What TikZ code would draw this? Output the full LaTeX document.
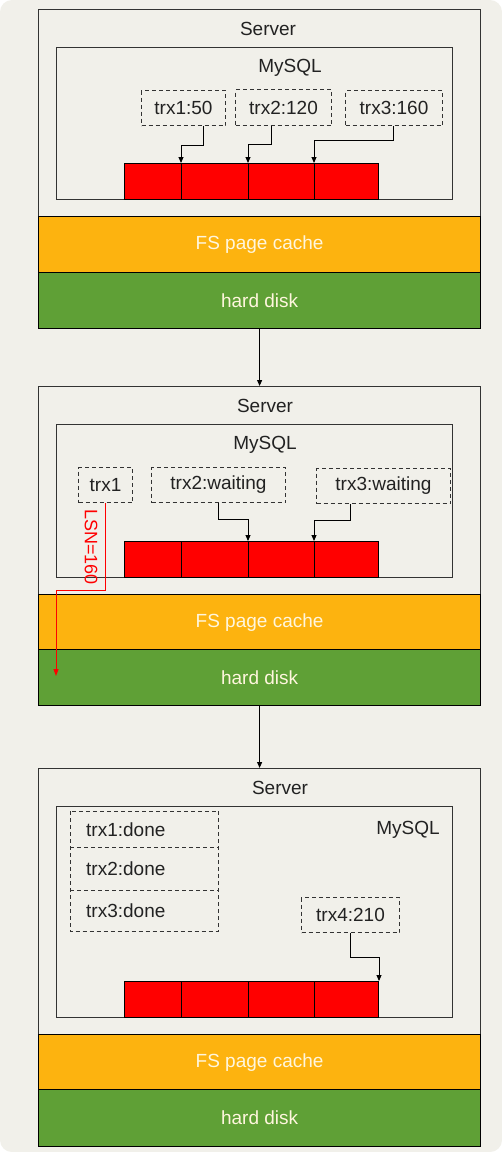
\documentclass[tikz,border=0pt]{standalone}
\usepackage{fontspec}
\setmainfont{Liberation Sans}
\usetikzlibrary{arrows.meta}
\definecolor{bg}{HTML}{F1F0EA}
\definecolor{cachec}{HTML}{FDB30F}
\definecolor{diskc}{HTML}{5FA036}
\definecolor{bufc}{HTML}{FF0000}
\definecolor{lnc}{HTML}{333333}
\definecolor{lblc}{HTML}{FFF6DE}
\definecolor{txtc}{HTML}{222222}
\begin{document}
\begin{tikzpicture}[x=1pt,y=-1pt,
  every node/.style={font=\fontsize{19}{21}\selectfont, text=txtc},
  solidbox/.style={draw=lnc, line width=1.2pt, fill=bg, inner sep=0pt, anchor=north west},
  cachebox/.style={draw=black, line width=1.2pt, fill=cachec, inner sep=0pt, anchor=north west, minimum width=442pt, text=lblc},
  diskbox/.style={draw=black, line width=1.2pt, fill=diskc, inner sep=0pt, anchor=north west, minimum width=442pt, text=lblc},
  dashline/.style={draw=lnc, line width=1pt, dash pattern=on 4pt off 3pt},
  trxbox/.style={dashline, inner sep=0pt, anchor=north west},
  donebox/.style={inner sep=0pt, anchor=north west, text width=116pt, inner xsep=16pt, align=left},
  cellbox/.style={draw=black, line width=1pt, fill=bufc, inner sep=0pt, anchor=north west, minimum height=36pt},
  arr/.style={draw=black, line width=0.9pt, -{Triangle[length=6pt,width=5pt]}},
  redarr/.style={draw=bufc, line width=1pt, -{Triangle[length=7pt,width=5pt]}},
  lbl/.style={inner sep=0pt}
]
\useasboundingbox (0,0) rectangle (502,1152);
\fill[white] (0,0) rectangle (502,1152);
\fill[bg, rounded corners=12pt] (0,0) rectangle (502,1152);

% ---------- panel 1 ----------
\node[solidbox, minimum width=442pt, minimum height=207pt] (srv1) at (38,9) {};
\node[cachebox, minimum height=56pt] (cache1) at (38,216) {FS page cache};
\node[diskbox, minimum height=56pt] (disk1) at (38,272) {hard disk};
\node[lbl] (srvl1) at (268,29) {Server};
\node[solidbox, minimum width=396pt, minimum height=152pt] (my1) at (56,47) {};
\node[lbl] (myl1) at (290,68) {MySQL};
\node[trxbox, minimum width=84pt, minimum height=35pt] (t11) at (141,90) {trx1:50};
\node[trxbox, minimum width=96pt, minimum height=36pt] (t12) at (235,89) {trx2:120};
\node[trxbox, minimum width=97pt, minimum height=35pt] (t13) at (345,90) {trx3:160};
\node[cellbox, minimum width=57pt] (c11) at (124,163) {};
\node[cellbox, minimum width=67pt] (c12) at (181,163) {};
\node[cellbox, minimum width=66pt] (c13) at (248,163) {};
\node[cellbox, minimum width=64pt] (c14) at (314,163) {};
\draw[arr] ([xshift=20pt]t11.south) -- ++(0,19) -| (c12.north west);
\draw[arr] ([xshift=-12pt]t12.south) -- ++(0,18) -| (c13.north west);
\draw[arr] ([xshift=-0.5pt]t13.south) -- ++(0,14) -| (c14.north west);

% ---------- panel 2 ----------
\node[solidbox, minimum width=442pt, minimum height=208pt] (srv2) at (38,386) {};
\node[cachebox, minimum height=55pt] (cache2) at (38,594) {FS page cache};
\node[diskbox, minimum height=56pt] (disk2) at (38,649) {hard disk};
\node[lbl] (srvl2) at (265,406) {Server};
\node[solidbox, minimum width=396pt, minimum height=153pt] (my2) at (56,424) {};
\node[lbl] (myl2) at (265,445) {MySQL};
\node[trxbox, minimum width=54pt, minimum height=35pt] (t21) at (78,467) {trx1};
\node[trxbox, minimum width=134pt, minimum height=35pt] (t22) at (151,467) {trx2:waiting};
\node[trxbox, minimum width=134pt, minimum height=35pt] (t23) at (316,468) {trx3:waiting};
\node[cellbox, minimum width=57pt] (c21) at (124,541) {};
\node[cellbox, minimum width=67pt] (c22) at (181,541) {};
\node[cellbox, minimum width=66pt] (c23) at (248,541) {};
\node[cellbox, minimum width=64pt] (c24) at (314,541) {};
\draw[arr] (t22.south) -- ++(0,16) -| (c23.north west);
\draw[arr] ([xshift=-33pt]t23.south) -- ++(0,16) -| (c24.north west);
\coordinate (r2end) at (56,676);
\draw[redarr] (t21.south) -- ++(0,87) -| (r2end);
\node[lbl, text=bufc, rotate=-90, font=\fontsize{18}{20}\selectfont] (lsn) at (91,547) {LSN=160};

% ---------- panel 3 ----------
\node[solidbox, minimum width=442pt, minimum height=266pt] (srv3) at (38,768) {};
\node[cachebox, minimum height=55pt] (cache3) at (38,1034) {FS page cache};
\node[diskbox, minimum height=57pt] (disk3) at (38,1089) {hard disk};
\node[lbl] (srvl3) at (280,788) {Server};
\node[solidbox, minimum width=396pt, minimum height=211pt] (my3) at (56,806) {};
\node[lbl] (myl3) at (408,830) {MySQL};
\node[donebox, minimum height=36pt] (d1) at (70,811) {trx1:done};
\node[donebox, minimum height=43pt] (d2) at (70,847) {trx2:done};
\node[donebox, minimum height=41pt] (d3) at (70,890) {trx3:done};
\draw[dashline] (d1.north west) rectangle (d3.south east);
\draw[dashline] (d2.north west) -- (d2.north east);
\draw[dashline] (d3.north west) -- (d3.north east);
\node[trxbox, minimum width=98pt, minimum height=35pt] (t34) at (301,897) {trx4:210};
\node[cellbox, minimum width=57pt] (c31) at (124,981) {};
\node[cellbox, minimum width=67pt] (c32) at (181,981) {};
\node[cellbox, minimum width=66pt] (c33) at (248,981) {};
\node[cellbox, minimum width=64pt] (c34) at (314,981) {};
\draw[arr] (t34.south) -- ++(0,24) -| (c34.north east);

% ---------- connectors between panels ----------
\draw[arr] (disk1.south) -- (srv2.north);
\draw[arr] (disk2.south) -- (srv3.north);
\end{tikzpicture}
\end{document}
